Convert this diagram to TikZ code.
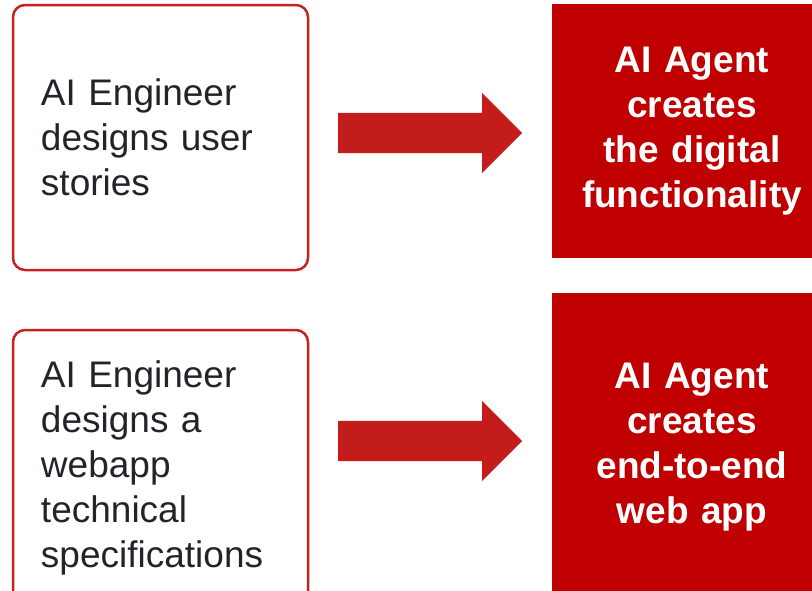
\documentclass[tikz,border=0pt]{standalone}
\usepackage{fontspec}
\setmainfont{Liberation Sans}
\usetikzlibrary{shapes.arrows}

\definecolor{agentred}{HTML}{C00000}
\definecolor{arrowred}{HTML}{C41C1B}
\definecolor{framered}{HTML}{C62320}
\definecolor{textdark}{HTML}{212529}

\begin{document}
\begin{tikzpicture}[x=1pt, y=-1pt,
    engineer/.style={draw=framered, line width=2.5pt, rounded corners=12pt,
        minimum width=295pt, inner xsep=28pt, text width=239pt, align=left,
        text=textdark, font=\fontsize{37}{45}\selectfont},
    agent/.style={fill=agentred, minimum width=280pt, text width=260pt,
        align=center, text=white, font=\fontsize{37}{45}\selectfont\bfseries},
    flow/.style={single arrow, fill=arrowred, draw=none, anchor=tail,
        minimum height=184pt, minimum width=80pt, single arrow head extend=20pt,
        inner xsep=0pt, inner ysep=20pt}]
                        \clip (0,0) rectangle (812,590);

                        \node[engineer, minimum height=265pt] (e1) at (160.5,137.5)
                            {AI Engineer\\designs user\\stories};
                        \node[engineer, minimum height=275pt] (e2) at (160.5,467.5)
                            {AI Engineer\\designs a\\webapp\\technical\\specifications};

                        \node[agent, minimum height=254pt] (g1) at (692,131)
                            {AI Agent\\creates\\the digital\\functionality};
                        \node[agent, minimum height=308pt] (g2) at (692,447)
                            {AI Agent\\creates\\end-to-end\\web app};

                        \node[flow] (r1) at (338,133) {};
                        \node[flow] (r2) at (338,441) {};

                    \end{tikzpicture}
\end{document}
